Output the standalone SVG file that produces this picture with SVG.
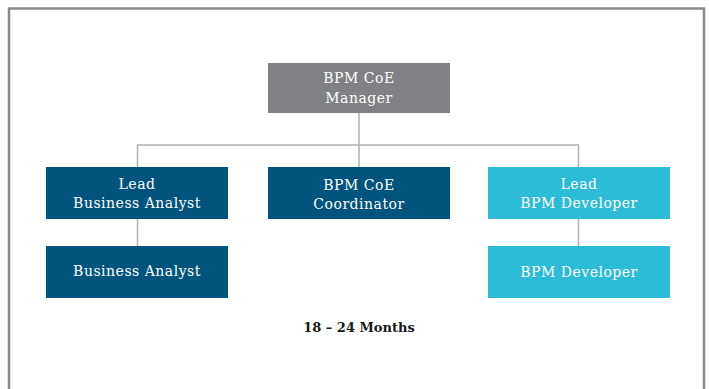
<svg xmlns="http://www.w3.org/2000/svg" width="709" height="389" viewBox="0 0 709 389">
  <style>
    .frame { fill: none; stroke: #898989; stroke-width: 2.5; }
    .link { fill: none; stroke: #b0b0b0; stroke-width: 1.5; }
    .mgr { fill: #808184; }
    .dark { fill: #02547e; }
    .light { fill: #2dbcd8; }
    .lbl { font-family: "DejaVu Serif", "Liberation Serif", serif; font-size: 14px; letter-spacing: 0.5px; fill: #ffffff; text-anchor: middle; }
    .note { font-family: "DejaVu Serif", "Liberation Serif", serif; font-size: 13px; font-weight: bold; fill: #1a1a1a; text-anchor: middle; }
  </style>
  <rect width="709" height="389" fill="#ffffff"/>
  <rect class="frame" x="9" y="8.5" width="695" height="400"/>

  <g id="connectors">
    <path class="link" d="M359 113 V167 M137.5 167 V145 H578.5 V167"/>
    <path class="link" d="M137.5 219 V246"/>
    <path class="link" d="M578.5 219 V246"/>
  </g>

  <g id="manager">
    <rect class="mgr" x="268" y="63" width="182" height="50"/>
    <text class="lbl" x="359" y="83">BPM CoE</text>
    <text class="lbl" x="359" y="103">Manager</text>
  </g>
  <g id="lead-business-analyst">
    <rect class="dark" x="46" y="167" width="182" height="52"/>
    <text class="lbl" x="137" y="189">Lead</text>
    <text class="lbl" x="137" y="208">Business Analyst</text>
  </g>
  <g id="coordinator">
    <rect class="dark" x="268" y="167" width="182" height="52"/>
    <text class="lbl" x="359" y="190">BPM CoE</text>
    <text class="lbl" x="359" y="209">Coordinator</text>
  </g>
  <g id="lead-bpm-developer">
    <rect class="light" x="488" y="167" width="182" height="52"/>
    <text class="lbl" x="579" y="189">Lead</text>
    <text class="lbl" x="579" y="208">BPM Developer</text>
  </g>
  <g id="business-analyst">
    <rect class="dark" x="46" y="246" width="182" height="52"/>
    <text class="lbl" x="137" y="276">Business Analyst</text>
  </g>
  <g id="bpm-developer">
    <rect class="light" x="488" y="246" width="182" height="52"/>
    <text class="lbl" x="579" y="277">BPM Developer</text>
  </g>

  <text class="note" x="359" y="332">18 – 24 Months</text>
</svg>
